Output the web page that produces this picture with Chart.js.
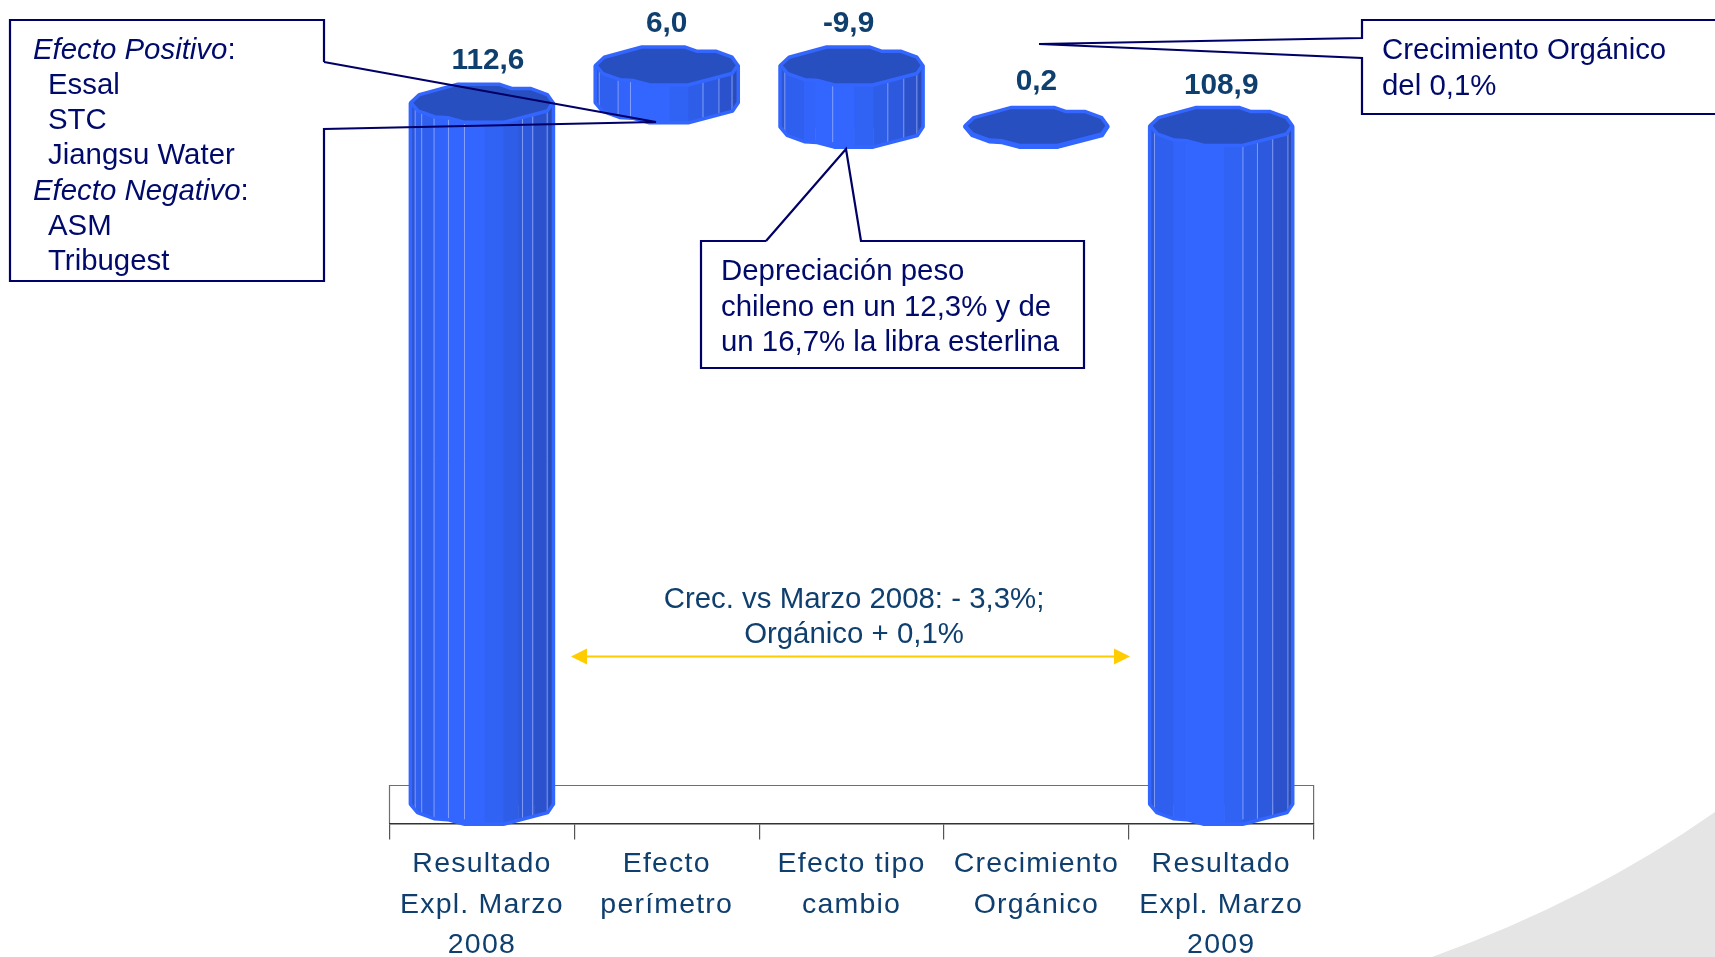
<!DOCTYPE html>
<html><head><meta charset="utf-8">
<style>html,body{margin:0;padding:0;background:#fff;overflow:hidden}#w{position:absolute;left:0;top:0;width:1715px;height:957px}</style>
<script src="https://cdn.jsdelivr.net/npm/chart.js@4"></script></head>
<body><div id="w"><canvas id="c" width="1715" height="957"></canvas></div>
<script>
const categories=[["Resultado","Expl. Marzo","2008"],["Efecto","perímetro"],["Efecto tipo","cambio"],["Crecimiento","Orgánico"],["Resultado","Expl. Marzo","2009"]];
const barStart=[0,112.6,108.7,108.7,0];
const barEnd=[112.6,118.6,118.6,108.9,108.9];
const valueLabels=["112,6","6,0","-9,9","0,2","108,9"];
const calloutLeft=["Efecto Positivo:","  Essal","  STC","  Jiangsu Water","Efecto Negativo:","  ASM","  Tribugest"];
const calloutMid=["Depreciación peso","chileno en un 12,3% y de","un 16,7% la libra esterlina"];
const calloutRight=["Crecimiento Orgánico","del 0,1%"];
const growthNote=["Crec. vs Marzo 2008: - 3,3%;","Orgánico + 0,1%"];

const NAVY='#000066',TEXT='#0F3F6E',FONT='"Liberation Sans",Arial,sans-serif';
const capShape=[[0,-.02],[.06,-.23],[.325,-.5],[.625,-.5],[.71,-.39],[.845,-.39],[.96,-.23],[1,-.02],[.96,.2],[.65,.5],[.38,.5],[.26,.38],[.17,.36],[.05,.2]];
const facets=[[0,.04,'#2c56d8'],[.04,.17,'#2f5fee'],[.17,.25,'#3263fa'],[.25,.52,'#3366ff'],[.52,.65,'#3062f4'],[.65,.75,'#2e5de8'],[.75,.86,'#2d59de'],[.86,.96,'#2b52cc'],[.96,1,'#2a4cb8']];
const facetLines=[[.04,.085,.17,.27,.38,.78,.85,.95],[.035,.165,.25,.75,.86,.95],[.04,.37,.75,.86,.95],[],[.04,.65,.75,.855,.96]];

function capPath(ctx,x,cy,w,h){ctx.beginPath();capShape.forEach((p,i)=>{const X=x-w/2+p[0]*w,Y=cy+p[1]*h;i?ctx.lineTo(X,Y):ctx.moveTo(X,Y)});ctx.closePath();}
function bodyPath(ctx,x,top,base,w,h){ctx.beginPath();ctx.moveTo(x-w/2,top);ctx.lineTo(x+w/2,top);
  for(let i=7;i<=13;i++){const p=capShape[i];ctx.lineTo(x-w/2+p[0]*w,base+p[1]*h);}
  ctx.lineTo(x-w/2,base+capShape[0][1]*h);ctx.closePath();}
function lines(ctx,pts,close){ctx.beginPath();pts.forEach((p,i)=>i?ctx.lineTo(p[0],p[1]):ctx.moveTo(p[0],p[1]));if(close)ctx.closePath();ctx.stroke();}

const cylinderPlugin={id:'cyl',
 beforeDraw(chart){const ctx=chart.ctx,{left,right,bottom}=chart.chartArea;
  ctx.save();
  ctx.fillStyle='#e5e5e5';ctx.beginPath();ctx.moveTo(1432,957);ctx.quadraticCurveTo(1590,900,1715,812);ctx.lineTo(1715,957);ctx.closePath();ctx.fill();
  ctx.strokeStyle='#6f6f6f';ctx.lineWidth=1.2;lines(ctx,[[left,bottom],[left,bottom-38],[right,bottom-38],[right,bottom]]);
  ctx.restore();
  ctx.letterSpacing='1.2px';
 },
 beforeDatasetsDraw(chart){chart.ctx.letterSpacing='0px';},
 afterDatasetsDraw(chart){const ctx=chart.ctx;const meta=chart.getDatasetMeta(0);
  meta.data.forEach((el,i)=>{const w=el.width,h=41,x=el.x,top=el.y,base=el.base;
   ctx.save();
   bodyPath(ctx,x,top,base,w,h);ctx.clip();
   facets.forEach(f=>{ctx.fillStyle=f[2];ctx.fillRect(x-w/2+f[0]*w,top-2,(f[1]-f[0])*w+.5,base-top+h+4);});
   ctx.strokeStyle='rgba(185,200,255,.6)';ctx.lineWidth=1;
   facetLines[i].forEach(u=>{lines(ctx,[[x-w/2+u*w,top],[x-w/2+u*w,base+h/2-6]]);});
   ctx.restore();
   ctx.save();ctx.lineJoin='round';ctx.strokeStyle='#3366ff';ctx.lineWidth=3.5;
   bodyPath(ctx,x,top,base,w-2,h-2);ctx.stroke();
   capPath(ctx,x,top,w-3,h-3);ctx.fillStyle='#284fc0';ctx.fill();ctx.stroke();
   ctx.restore();
  });
 },
 afterDraw(chart){const ctx=chart.ctx;const meta=chart.getDatasetMeta(0);
  ctx.save();
  ctx.textAlign='center';ctx.textBaseline='middle';ctx.fillStyle=TEXT;ctx.font='bold 29.8px '+FONT;
  const dx=[6,0,-3,0,0],dy=[-22.5,-22,-21.5,-24,-20];
  meta.data.forEach((el,i)=>ctx.fillText(valueLabels[i],el.x+dx[i],el.y-20.5+dy[i]));
  ctx.strokeStyle=NAVY;ctx.lineWidth=2.2;ctx.lineJoin='miter';
  lines(ctx,[[324,62],[324,20],[10,20],[10,281],[324,281],[324,129],[656,122],[324,62]]);
  lines(ctx,[[766,241],[846,149],[861,241],[1084,241],[1084,368],[701,368],[701,241],[766,241]]);
  lines(ctx,[[1715,20],[1362,20],[1362,38],[1039,44],[1362,58],[1362,114],[1715,114]]);
  ctx.textAlign='left';ctx.textBaseline='alphabetic';ctx.fillStyle='#000a6a';
  const f='29.4px '+FONT;
  calloutLeft.forEach((t,i)=>{const it=i===0||i===4;
    const y=58.5+i*35.3;const x=t.startsWith('  ')?48:33;
    if(it){const s=t.slice(0,-1);ctx.font='italic '+f;ctx.fillText(s,x,y);const sw=ctx.measureText(s).width;ctx.font=f;ctx.fillText(':',x+sw,y);}
    else{ctx.font=f;ctx.fillText(t.trim(),x,y);}
  });
  ctx.font=f;
  calloutMid.forEach((t,i)=>ctx.fillText(t,721,280+i*35.5));
  calloutRight.forEach((t,i)=>ctx.fillText(t,1382,59+i*35.5));
  ctx.textAlign='center';ctx.fillStyle=TEXT;
  growthNote.forEach((t,i)=>ctx.fillText(t,854,608+i*35));
  const ax0=571,ax1=1130,ay=656.5;
  ctx.strokeStyle='#ffcc00';ctx.fillStyle='#ffcc00';ctx.lineWidth=2;lines(ctx,[[ax0+10,ay],[ax1-10,ay]]);
  ctx.beginPath();ctx.moveTo(ax0,ay);ctx.lineTo(ax0+16,ay-8);ctx.lineTo(ax0+16,ay+8);ctx.closePath();ctx.fill();
  ctx.beginPath();ctx.moveTo(ax1,ay);ctx.lineTo(ax1-16,ay-8);ctx.lineTo(ax1-16,ay+8);ctx.closePath();ctx.fill();
  ctx.restore();
 }};

new Chart(document.getElementById('c'),{
 type:'bar',
 data:{labels:categories,datasets:[{data:barStart.map((s,i)=>[s,barEnd[i]]),backgroundColor:'#3366ff',borderWidth:0,barPercentage:.785,categoryPercentage:1}]},
 plugins:[cylinderPlugin],
 options:{responsive:false,animation:false,
  layout:{padding:{left:389.5,right:401.4,top:7.4,bottom:0}},
  plugins:{legend:{display:false},tooltip:{enabled:false},title:{display:false}},
  scales:{
   x:{offset:true,position:'bottom',afterFit(s){s.height=133.5;},
      grid:{display:true,drawOnChartArea:false,drawTicks:true,tickLength:16,tickColor:'#555',color:'#555',lineWidth:1.2},
      border:{display:true,color:'#333',width:1.5},
      ticks:{autoSkip:false,maxRotation:0,minRotation:0,padding:5,color:TEXT,font:{family:FONT,size:28.5,lineHeight:1.41}}},
   y:{display:false,min:-3,max:128}
  }}});
</script></body></html>
